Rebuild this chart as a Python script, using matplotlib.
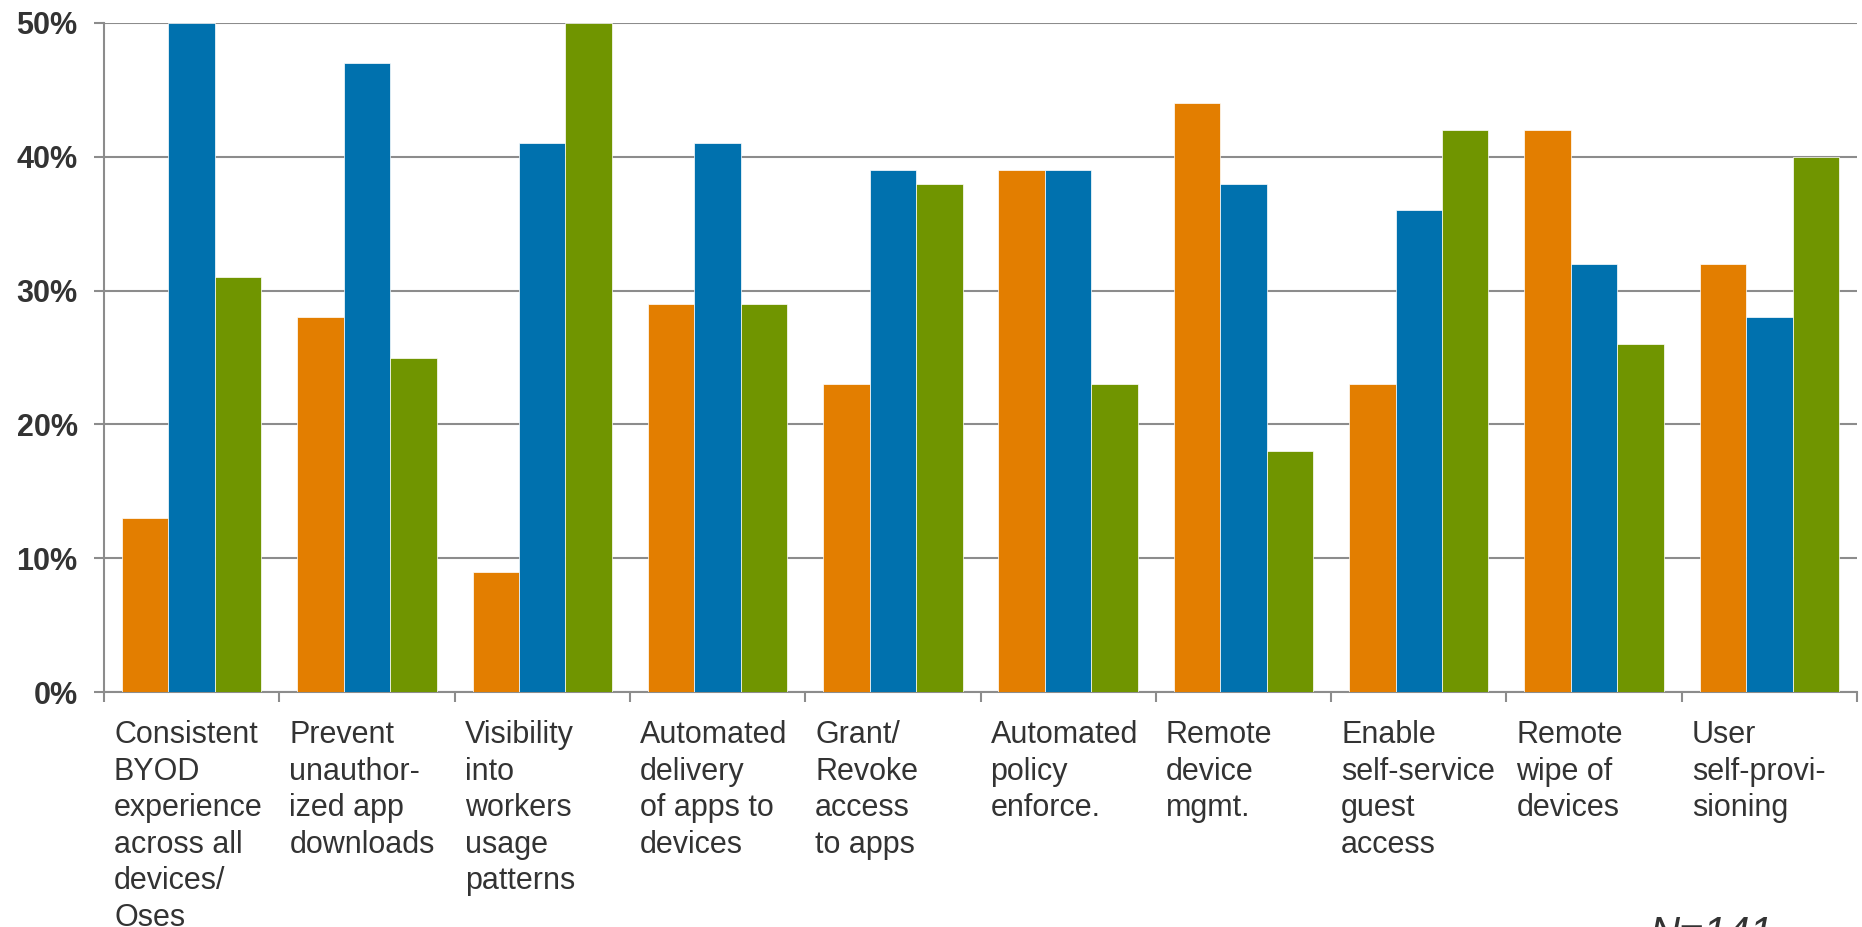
import numpy as np
import matplotlib
matplotlib.use("Agg")
import matplotlib.pyplot as plt
import matplotlib.transforms as mtrans

# -- data -- #
categories = [
    "Consistent\nBYOD\nexperience\nacross all\ndevices/\nOses",
    "Prevent\nunauthor-\nized app\ndownloads",
    "Visibility\ninto\nworkers\nusage\npatterns",
    "Automated\ndelivery\nof apps to\ndevices",
    "Grant/\nRevoke\naccess\nto apps",
    "Automated\npolicy\nenforce.",
    "Remote\ndevice\nmgmt.",
    "Enable\nself-service\nguest\naccess",
    "Remote\nwipe of\ndevices",
    "User\nself-provi-\nsioning",
]
orange_vals = [13, 28, 9, 29, 23, 39, 44, 23, 42, 32]
blue_vals = [50, 47, 41, 41, 39, 39, 38, 36, 32, 28]
green_vals = [31, 25, 50, 29, 38, 23, 18, 42, 26, 40]
yticks = [0, 10, 20, 30, 40, 50]
note = "N=141"

plt.rcParams['font.family'] = ['Liberation Sans', 'DejaVu Sans']

fig = plt.figure(figsize=(18.62, 9.27), dpi=100)
ax = fig.add_axes([104/1862, 1 - 692/927, (1857-104)/1862, (692-23)/927])

x = np.arange(len(categories))
w = 0.265
grey = "#8c8c8c"
txt = "#333333"

ax.bar(x - w, orange_vals, w, color="#E37E00", edgecolor="white", linewidth=0.5, zorder=3)
ax.bar(x, blue_vals, w, color="#0071AE", edgecolor="white", linewidth=0.5, zorder=3)
ax.bar(x + w, green_vals, w, color="#709500", edgecolor="white", linewidth=0.5, zorder=3)

ax.set_xlim(-0.5, len(categories) - 0.5)
ax.set_ylim(0, 50)

# gridlines + axis styling
ax.set_yticks(yticks)
ax.set_yticklabels([str(v) + "%" for v in yticks], fontsize=22, fontweight="bold", color=txt)
ax.yaxis.grid(True, color=grey, linewidth=1.5, zorder=0)
ax.tick_params(axis="y", length=7, width=1.5, color=grey, pad=12)

ax.set_xticks(np.arange(len(categories) + 1) - 0.5)
ax.set_xticklabels([])
ax.tick_params(axis="x", length=7, width=1.5, color=grey)

for s in ["top", "right"]:
    ax.spines[s].set_visible(False)
for s in ["left", "bottom"]:
    ax.spines[s].set_color(grey)
    ax.spines[s].set_linewidth(1.5)
ax.set_axisbelow(True)

# category labels, left aligned under each group
trans = mtrans.blended_transform_factory(ax.transData, ax.transAxes)
for i, lab in enumerate(categories):
    ax.text(i - 0.5 + 10/175.3, -0.0425, lab, transform=trans, ha="left", va="top",
            fontsize=22, color=txt, linespacing=1.28)

fig.text(1650/1862, 1 - 915/927, note, fontsize=30, style="italic", color=txt,
         ha="left", va="top")

plt.savefig("out.png", dpi=100)
plt.close()
